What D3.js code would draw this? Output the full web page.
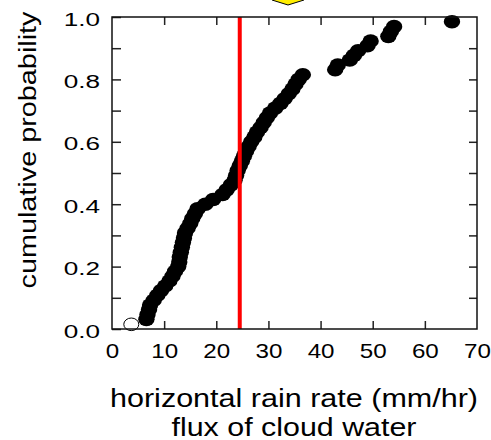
<!DOCTYPE html>
<html>
<head>
<meta charset="utf-8">
<script src="https://cdn.jsdelivr.net/npm/d3@7"></script>
<style>
body { margin: 0; background: #fff; }
text { font-family: "Liberation Sans", Arial, sans-serif; fill: #000; }
</style>
</head>
<body>
<svg id="chart" width="491" height="440"></svg>
<script>
// open marker (lowest observation)
var openRate = [3.7];
var openProb = [0.015];

// filled markers: horizontal rain rate (mm/hr) and cumulative probability
var rainRate = [6.6, 6.8, 7.1, 7.3, 8.0, 8.7, 9.4, 10.2, 11.0, 11.6, 12.1, 12.7, 12.9, 13.0, 13.2, 13.4,
    13.6, 13.8, 14.0, 14.5, 15.0, 15.4, 15.9, 16.4, 17.9, 19.4, 21.2, 22.0, 22.8, 23.5, 23.8, 24.1,
    24.5, 24.9, 25.3, 25.7, 26.2, 26.7, 27.3, 27.8, 28.5, 29.1, 29.7, 30.3, 31.3, 32.3, 33.1, 33.9,
    34.6, 35.2, 35.8, 36.6, 42.8, 43.3, 45.6, 46.4, 47.2, 49.0, 49.6, 53.0, 53.5, 54.1, 65.2];
var cumProb = [0.031, 0.046, 0.062, 0.077, 0.092, 0.108, 0.123, 0.138, 0.154, 0.169, 0.185, 0.200, 0.215, 0.231, 0.246, 0.262,
    0.277, 0.292, 0.308, 0.323, 0.338, 0.354, 0.369, 0.385, 0.400, 0.415, 0.431, 0.446, 0.462, 0.477, 0.492, 0.508,
    0.523, 0.538, 0.554, 0.569, 0.585, 0.600, 0.615, 0.631, 0.646, 0.662, 0.677, 0.692, 0.708, 0.723, 0.738, 0.754,
    0.769, 0.785, 0.800, 0.815, 0.831, 0.846, 0.862, 0.877, 0.892, 0.908, 0.923, 0.938, 0.954, 0.969, 0.985];

// vertical marker line
var markRate = [24.5];

// tick values
var xTicks = [0, 10, 20, 30, 40, 50, 60, 70];
var xInnerTicks = [10, 20, 30, 40, 50, 60];
var yTicks = [0, 0.1, 0.2, 0.3, 0.4, 0.5, 0.6, 0.7, 0.8, 0.9, 1.0];
var yLabels = [0, 0.2, 0.4, 0.6, 0.8, 1.0];

var svg = d3.select("#chart");

var x = d3.scaleLinear().domain([0, 70]).range([112, 477]);
var y = d3.scaleLinear().domain([0, 1]).range([329, 17]);

// stretch text horizontally like the original
function stretch(sel, factor) {
    sel.each(function () {
        var w = this.getComputedTextLength();
        d3.select(this).attr("textLength", w * factor).attr("lengthAdjust", "spacingAndGlyphs");
    });
}

// yellow arrow tip peeking in at the top
svg.append("polygon")
    .attr("points", "272,-6 304,-6 304,0 288,5 272,0")
    .style("fill", "#ffee00")
    .style("stroke", "#000")
    .style("stroke-width", 1);

// data markers
var pts = rainRate.map(function (d, i) { return { v: d, p: cumProb[i] }; });
svg.append("g").selectAll("ellipse")
    .data(pts)
    .enter().append("ellipse")
    .attr("cx", function (d) { return x(d.v); })
    .attr("cy", function (d) { return y(d.p); })
    .attr("rx", 8.2)
    .attr("ry", 6.8)
    .style("fill", "#000");

svg.append("g").selectAll("ellipse")
    .data(openRate)
    .enter().append("ellipse")
    .attr("cx", function (d) { return x(d); })
    .attr("cy", function (d, i) { return y(openProb[i]); })
    .attr("rx", 7.5)
    .attr("ry", 6.3)
    .style("fill", "#fff")
    .style("stroke", "#000")
    .style("stroke-width", 1);

// red vertical line
svg.append("g").selectAll("line")
    .data(markRate)
    .enter().append("line")
    .attr("x1", function (d) { return x(d); })
    .attr("x2", function (d) { return x(d); })
    .attr("y1", y(1))
    .attr("y2", y(0))
    .style("stroke", "#ff0000")
    .style("stroke-width", 4);

// axes
var bottom = svg.append("g")
    .attr("transform", "translate(0," + y(0) + ")")
    .call(d3.axisBottom(x).tickValues(xTicks).tickSize(-8).tickSizeOuter(0).tickPadding(14)
        .tickFormat(function (d) { return d; }));
bottom.selectAll("text").style("font-size", "21px").attr("dy", "0.71em");
bottom.selectAll("line").filter(function (d) { return d === 0 || d === 70; }).remove();
stretch(bottom.selectAll("text"), 1.15);

var top = svg.append("g")
    .attr("transform", "translate(0," + y(1) + ")")
    .call(d3.axisTop(x).tickValues(xInnerTicks).tickSize(-8).tickSizeOuter(0).tickFormat(""));

var left = svg.append("g")
    .attr("transform", "translate(" + x(0) + ",0)")
    .call(d3.axisLeft(y).tickValues(yTicks).tickSize(-9).tickSizeOuter(0).tickPadding(12)
        .tickFormat(function (d) { return yLabels.indexOf(d) >= 0 ? d3.format(".1f")(d) : ""; }));
left.selectAll("text").style("font-size", "18px").attr("dy", "0.45em");
stretch(left.selectAll("text"), 1.45);

var right = svg.append("g")
    .attr("transform", "translate(" + x(70) + ",0)")
    .call(d3.axisRight(y).tickValues(yTicks.slice(1, -1)).tickSize(-8).tickSizeOuter(0).tickFormat(""));

svg.selectAll(".domain").remove();
svg.selectAll(".tick line").style("stroke", "#222").style("stroke-width", 1.5);

// frame
svg.append("rect")
    .attr("x", x(0))
    .attr("y", y(1))
    .attr("width", x(70) - x(0))
    .attr("height", y(0) - y(1))
    .style("fill", "none")
    .style("stroke", "#111")
    .style("stroke-width", 1.5);

// axis titles
var yTitle = svg.append("text")
    .attr("transform", "translate(36,150) rotate(-90)")
    .attr("text-anchor", "middle")
    .style("font-size", "23px")
    .text("cumulative probability");
yTitle.attr("textLength", 277).attr("lengthAdjust", "spacingAndGlyphs");

svg.append("text")
    .attr("x", 294)
    .attr("y", 407)
    .attr("text-anchor", "middle")
    .style("font-size", "25px")
    .attr("textLength", 368)
    .attr("lengthAdjust", "spacingAndGlyphs")
    .text("horizontal rain rate (mm/hr)");

svg.append("text")
    .attr("x", 294)
    .attr("y", 436)
    .attr("text-anchor", "middle")
    .style("font-size", "25px")
    .attr("textLength", 245)
    .attr("lengthAdjust", "spacingAndGlyphs")
    .text("flux of cloud water");
</script>
</body>
</html>
